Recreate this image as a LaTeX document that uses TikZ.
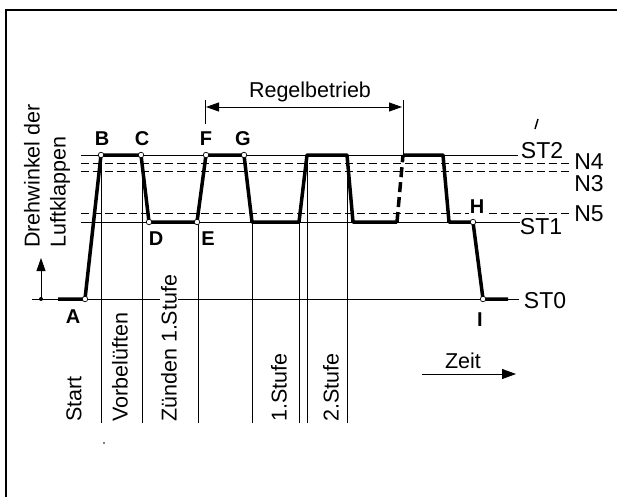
\documentclass[tikz,border=0pt]{standalone}
\usepackage{fontspec}
\setmainfont{Liberation Sans}
\usetikzlibrary{arrows.meta}
\begin{document}
\begin{tikzpicture}[x=1pt,y=-1pt,
  thinl/.style={line width=0.9pt},
  refdash/.style={line width=0.9pt, dash pattern=on 8pt off 4pt},
  curve/.style={line width=3.5pt, line join=round},
  opt/.style={circle, draw, fill=white, line width=0.7pt, inner sep=0pt, minimum size=5.5pt},
  ptlabel/.style={font=\bfseries\fontsize{20}{22}\selectfont, inner sep=1pt},
  lvl/.style={font=\fontsize{23}{25}\selectfont, inner sep=0pt},
  phase/.style={font=\fontsize{21.5}{24}\selectfont, rotate=90, anchor=west, inner sep=0pt},
  txt/.style={font=\fontsize{21.5}{24}\selectfont, inner sep=0pt},
  tipl/.style={-{Triangle[length=13pt,width=9pt]}, line width=0.9pt}
]
\useasboundingbox (0,0) rectangle (617,497);
% frame
\draw[line width=1.2pt] (6,497) -- (6,10) -- (617,10);

% level labels
\node[lvl] (ST2) at (542,151) {ST2};
\node[lvl] (N4) at (589,162) {N4};
\node[lvl] (N3) at (589,184) {N3};
\node[lvl] (N5) at (589,214) {N5};
\node[lvl] (ST1) at (541,227) {ST1};
\node[lvl] (ST0) at (545,301) {ST0};

% level lines
\coordinate (st2l) at (81,155);  \coordinate (st2r) at (518,155);
\coordinate (n4l) at (81,163);   \coordinate (n4r) at (571,163);
\coordinate (n3l) at (81,171);   \coordinate (n3r) at (571,171);
\coordinate (n5l) at (81,213);   \coordinate (n5r) at (571,213);
\coordinate (st1l) at (81,222);  \coordinate (st1r) at (520,222);
\coordinate (st0l) at (32,299);  \coordinate (st0r) at (519,299);
\draw[thinl] (st2l) -- (st2r);
\draw[refdash] (n4l) -- (n4r);
\draw[refdash] (n3l) -- (n3r);
\draw[refdash] (n5l) -- (n5r);
\draw[thinl] (st1l) -- (st1r);
\draw[thinl] (st0l) -- (st0r);

% vertical phase lines
\foreach \x/\y in {101/155,142/155,198/222,252/222,299/222,307/155,347/155}
  \draw[thinl] (\x,\y) -- (\x,423);

% axis arrow
\coordinate (ax0) at (41,299);
\coordinate (ax1) at (41,258);
\draw[tipl] (ax0) -- (ax1);
\fill (ax0) circle (2pt);

% curve points
\coordinate (A0) at (58,299);
\coordinate (pA) at (85,299);
\coordinate (pB) at (101,155);
\coordinate (pC) at (141,155);
\coordinate (pD) at (149,222);
\coordinate (pE) at (197,222);
\coordinate (pF) at (206,155);
\coordinate (pG) at (244,155);
\coordinate (q1) at (252,222);
\coordinate (q2) at (299,222);
\coordinate (q3) at (307,155);
\coordinate (q4) at (347,155);
\coordinate (q5) at (353,222);
\coordinate (q6) at (397,222);
\coordinate (q7) at (403,155);
\coordinate (q8) at (443,155);
\coordinate (q9) at (449,222);
\coordinate (pH) at (473,222);
\coordinate (pI) at (483,299);
\coordinate (I1) at (508,299);

\draw[curve] (A0) -- (pA) -- (pB) -- (pC) -- (pD) -- (pE) -- (pF) -- (pG)
  -- (q1) -- (q2) -- (q3) -- (q4) -- (q5) -- (q6);
\draw[line width=3.5pt, dash pattern=on 10pt off 5pt] (q6) -- (q7);
\draw[curve] (q7) -- (q8) -- (q9) -- (pH) -- (pI) -- (I1);

\foreach \p in {pA,pB,pC,pD,pE,pF,pG,pH,pI}
  \node[opt] at (\p) {};

% point labels
\node[ptlabel] (lA) at (73,317) {A};
\node[ptlabel] (lB) at (102,139) {B};
\node[ptlabel] (lC) at (142,139) {C};
\node[ptlabel] (lF) at (206,139) {F};
\node[ptlabel] (lG) at (243,139) {G};
\node[ptlabel] (lD) at (156,239) {D};
\node[ptlabel] (lE) at (208,239) {E};
\node[ptlabel, fill=white] (lH) at (477,207) {H};
\node[ptlabel] (lI) at (480,320) {I};

% Regelbetrieb
\node[txt, anchor=base] (regel) at (310,98) {Regelbetrieb};
\coordinate (rlt) at (205,100); \coordinate (rlb) at (205,124);
\coordinate (rrt) at (403,100); \coordinate (rrb) at (403,154);
\draw[thinl] (rlt) -- (rlb);
\draw[thinl] (rrt) -- (rrb);
\coordinate (ra) at (206,107); \coordinate (rb) at (402,107);
\draw[line width=0.9pt, {Triangle[length=13pt,width=9pt]}-{Triangle[length=13pt,width=9pt]}] (ra) -- (rb);

% y axis label
\node[phase] (dreh) at (32,248) {Drehwinkel der};
\node[phase] (luft) at (60,248) {Luftklappen};

% phase labels
\node[phase] (start) at (74,422) {Start};
\node[phase] (vorb) at (120,422) {Vorbelüften};
\node[phase, fill=white, inner sep=1.5pt] (zuend) at (169,423.5) {Zünden 1.Stufe};
\node[phase] (st1t) at (279,422) {1.Stufe};
\node[phase] (st2t) at (331,422) {2.Stufe};

% Zeit
\node[txt, anchor=base] (zeit) at (463,368) {Zeit};
\coordinate (z0) at (422,374); \coordinate (z1) at (516,374);
\draw[line width=0.9pt, -{Triangle[length=14pt,width=10pt]}] (z0) -- (z1);

% small marks
\coordinate (m0) at (535,129); \coordinate (m1) at (538,119);
\draw[line width=1.5pt] (m0) -- (m1);
\fill (104,443) circle (0.8pt);
\end{tikzpicture}
\end{document}
